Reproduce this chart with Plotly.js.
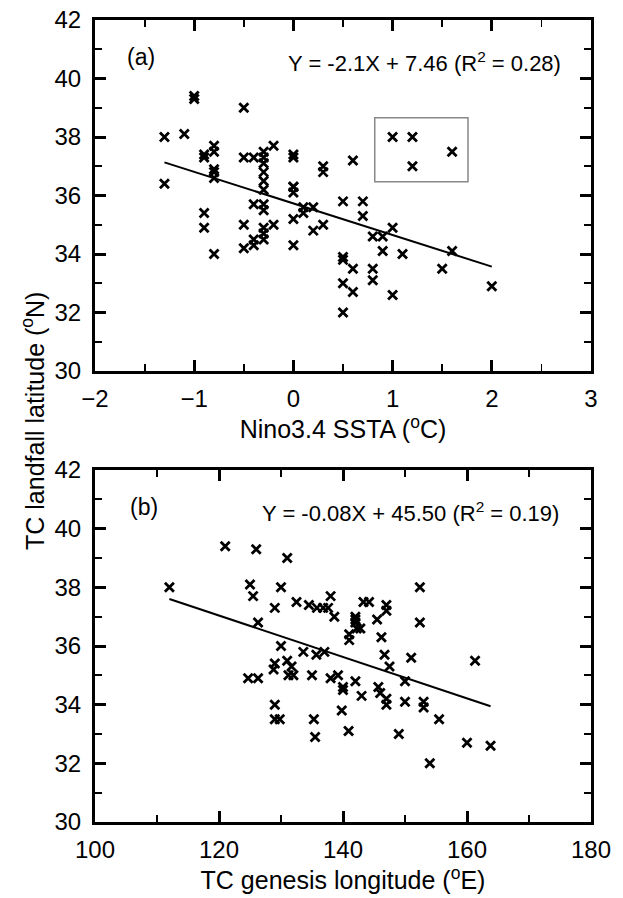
<!DOCTYPE html>
<html><head><meta charset="utf-8">
<script src="https://cdn.plot.ly/plotly-3.0.1.min.js"></script>
<style>body{margin:0;background:#fff}#c{width:623px;height:898px}</style>
</head><body><div id="c"></div>
<script>
// Panel (a): Nino3.4 SSTA vs TC landfall latitude
const ssta = [-1.3,-1.1,-1.0,-1.0,-0.5,-1.3,-0.9,-0.9,-0.8,-0.8,-0.8,-0.8,-0.8,-0.5,-0.4,-0.3,-0.3,-0.3,-0.3,-0.3,-0.2,0.0,0.0,0.0,0.3,0.3,0.6,
  -0.3,0.0,0.0,0.5,-0.9,-0.9,-0.8,-0.4,-0.3,-0.3,-0.5,-0.3,-0.3,-0.4,-0.3,-0.4,-0.5,-0.2,0.0,0.0,0.1,0.1,0.2,0.2,0.3,0.5,0.5,0.5,0.5,
  0.7,0.7,0.6,0.6,0.8,0.9,0.9,1.0,1.1,0.8,0.8,1.0,1.5,1.6,2.0,1.0,1.2,1.2,1.6];
const latA = [38.0,38.1,39.4,39.3,39.0,36.4,37.4,37.3,37.7,37.5,36.9,36.8,36.6,37.3,37.3,37.5,37.3,37.1,36.8,36.5,37.7,37.4,37.3,36.3,37.0,36.8,37.2,
  36.2,36.1,36.3,35.8,35.4,34.9,34.0,35.7,35.7,35.5,35.0,34.9,34.7,34.5,34.5,34.3,34.2,35.0,35.2,34.3,35.4,35.6,35.6,34.8,35.0,33.9,33.8,33.0,32.0,
  35.8,35.3,33.5,32.7,34.6,34.6,34.1,34.9,34.0,33.5,33.1,32.6,33.5,34.1,32.9,38.0,38.0,37.0,37.5];
const fitA = {slope: -1.08, intercept: 35.73, xmin: -1.3, xmax: 2.0};
const boxA = {x0: 0.82, x1: 1.76, y0: 36.47, y1: 38.66};
const eqA = "Y = -2.1X + 7.46 (R<sup>2</sup> = 0.28)";

// Panel (b): TC genesis longitude vs TC landfall latitude
const lon = [112,121,126,131,125,125.5,130,129,132.5,134.5,135.8,136.8,137.6,138,138.6,126.3,
  143.3,144.2,147,147,142,142,142,145.5,152.4,152.4,
  130,129,128.8,131,131.7,133.6,135.7,137,124.7,126.3,131.2,132,135,138,139.2,140,140,139.8,140.9,129,129,129.8,135.3,135.5,
  141,141,142.2,142.8,146.2,146.7,147.5,151,161.3,150,142,143,145.7,146,147,147,150,153,153,155.5,149,160,163.8,154];
const latB = [38.0,39.4,39.3,39.0,38.1,37.7,38.0,37.3,37.5,37.4,37.3,37.3,37.3,37.7,37.0,36.8,
  37.5,37.5,37.4,37.2,37.0,36.9,36.8,36.9,38.0,36.8,
  36.0,35.4,35.2,35.5,35.3,35.8,35.7,35.8,34.9,34.9,35.0,35.0,35.0,34.9,35.0,34.6,34.5,33.8,33.1,34.0,33.5,33.5,33.5,32.9,
  36.4,36.2,36.6,36.6,36.3,35.7,35.3,35.6,35.5,34.8,34.8,34.3,34.6,34.4,34.2,34.0,34.1,34.1,33.9,33.5,33.0,32.7,32.6,32.0];
const fitB = {slope: -0.0706, intercept: 45.51, xmin: 112, xmax: 163.8};
const eqB = "Y = -0.08X + 45.50 (R<sup>2</sup> = 0.19)";

const xTitleA = "Nino3.4 SSTA (<sup>o</sup>C)";
const xTitleB = "TC genesis longitude (<sup>o</sup>E)";
const yTitle = "TC landfall latitude (<sup>o</sup>N)";

const FONT = "Liberation Sans, Arial, sans-serif";
const mk = {symbol: 'x-thin-open', size: 9, color: '#000', line: {width: 2.8, color: '#000'}};

function fitLine(f, xa, ya){
  return {x: [f.xmin, f.xmax], y: [f.slope*f.xmin + f.intercept, f.slope*f.xmax + f.intercept],
    mode: 'lines', line: {color: '#000', width: 2}, xaxis: xa, yaxis: ya, hoverinfo: 'skip'};
}

const data = [
  {x: ssta, y: latA, mode: 'markers', marker: mk, xaxis: 'x', yaxis: 'y'},
  fitLine(fitA, 'x', 'y'),
  {x: lon, y: latB, mode: 'markers', marker: mk, xaxis: 'x2', yaxis: 'y2'},
  fitLine(fitB, 'x2', 'y2')
];

const axBase = {
  showgrid: false, zeroline: false, showline: true, linecolor: '#000', linewidth: 3,
  mirror: 'allticks', ticks: 'inside', ticklen: 11, tickwidth: 3, tickcolor: '#000',
  tickfont: {family: FONT, size: 24, color: '#000'},
  minor: {ticks: 'inside', ticklen: 7, tickwidth: 1.8, tickcolor: '#000'}
};
const titleFont = {family: FONT, size: 25, color: '#000'};

const layout = {
  width: 623, height: 898,
  margin: {l: 95, r: 32, t: 20, b: 76},
  paper_bgcolor: '#fff', plot_bgcolor: '#fff',
  showlegend: false,
  font: {family: FONT, color: '#000'},
  xaxis: Object.assign({}, axBase, {domain: [0,1], anchor: 'y', range: [-2,3], tickvals: [-2,-1,0,1,2,3],
    ticklabelstandoff: 4,
    minor: Object.assign({}, axBase.minor, {dtick: 0.5}),
    title: {text: xTitleA, font: titleFont, standoff: 8}}),
  yaxis: Object.assign({}, axBase, {domain: [0.5623,1], anchor: 'x', range: [30,42], tickvals: [30,32,34,36,38,40,42],
    ticklabelstandoff: 6,
    minor: Object.assign({}, axBase.minor, {dtick: 1})}),
  xaxis2: Object.assign({}, axBase, {domain: [0,1], anchor: 'y2', range: [100,180], tickvals: [100,120,140,160,180],
    ticklabelstandoff: 4,
    minor: Object.assign({}, axBase.minor, {dtick: 10}),
    title: {text: xTitleB, font: titleFont, standoff: 8}}),
  yaxis2: Object.assign({}, axBase, {domain: [0,0.4389], anchor: 'x2', range: [30,42], tickvals: [30,32,34,36,38,40,42],
    ticklabelstandoff: 6,
    minor: Object.assign({}, axBase.minor, {dtick: 1})}),
  shapes: [
    {type: 'rect', xref: 'x', yref: 'y', x0: boxA.x0, x1: boxA.x1, y0: boxA.y0, y1: boxA.y1,
      line: {color: '#888', width: 1.5}}
  ],
  annotations: [
    {xref: 'x domain', yref: 'y domain', x: 0.06, y: 0.895, text: '(a)', showarrow: false,
      xanchor: 'left', yanchor: 'middle', font: {family: FONT, size: 23, color: '#000'}},
    {xref: 'x domain', yref: 'y domain', x: 0.944, y: 0.881, text: eqA, showarrow: false,
      xanchor: 'right', yanchor: 'middle', font: {family: FONT, size: 22, color: '#000'}},
    {xref: 'x2 domain', yref: 'y2 domain', x: 0.066, y: 0.896, text: '(b)', showarrow: false,
      xanchor: 'left', yanchor: 'middle', font: {family: FONT, size: 23, color: '#000'}},
    {xref: 'x2 domain', yref: 'y2 domain', x: 0.94, y: 0.881, text: eqB, showarrow: false,
      xanchor: 'right', yanchor: 'middle', font: {family: FONT, size: 22, color: '#000'}},
    {xref: 'paper', yref: 'paper', x: -0.125, y: 0.5, text: yTitle, textangle: -90, showarrow: false,
      xanchor: 'center', yanchor: 'middle', font: {family: FONT, size: 25, color: '#000'}}
  ]
};

Plotly.newPlot('c', data, layout, {staticPlot: true});
</script></body></html>
